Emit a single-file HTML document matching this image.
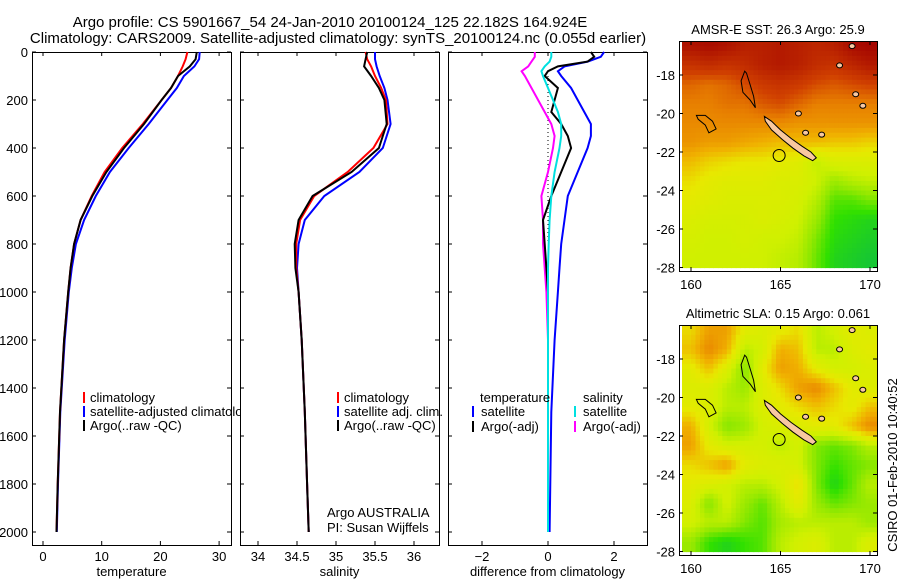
<!DOCTYPE html>
<html><head><meta charset="utf-8"><style>
body{margin:0;background:#fff}
svg{display:block;font-family:"Liberation Sans",sans-serif;font-size:13px}
</style></head><body>
<svg id="fig" width="900" height="580" xmlns="http://www.w3.org/2000/svg">
<text x="330" y="27" text-anchor="middle" style="font-size:15px">Argo profile: CS 5901667_54 24-Jan-2010 20100124_125 22.182S 164.924E</text>
<text x="338" y="43" text-anchor="middle" style="font-size:15px">Climatology: CARS2009. Satellite-adjusted climatology: synTS_20100124.nc (0.055d earlier)</text>
</svg>
<script>
const depths=[0,30,60,100,150,200,300,400,500,600,700,800,900,1000,1200,1500,1800,2000];
const tClim=[24.6,24.3,23.8,23.0,21.8,20.2,17.0,13.5,10.5,8.3,6.4,5.3,4.7,4.3,3.6,2.9,2.5,2.3];
const tSat=[26.7,26.6,25.8,24.0,22.8,21.2,18.0,14.6,11.4,9.0,7.0,5.6,4.9,4.4,3.7,2.95,2.55,2.35];
const tArgo=[26.2,26.0,25.0,23.0,21.8,20.2,17.2,13.8,10.8,8.4,6.4,5.3,4.7,4.3,3.6,2.9,2.5,2.3];
const sClim=[35.38,35.4,35.45,35.5,35.58,35.64,35.66,35.48,35.15,34.72,34.54,34.49,34.49,34.52,34.56,34.6,34.63,34.65];
const sSat=[35.5,35.5,35.52,35.56,35.62,35.66,35.7,35.6,35.3,34.85,34.6,34.52,34.5,34.52,34.56,34.6,34.63,34.65];
const sArgo=[35.4,35.38,35.36,35.45,35.55,35.62,35.65,35.55,35.2,34.7,34.52,34.47,34.48,34.52,34.56,34.6,34.63,34.65];
const dDepth=[0,20,40,60,80,100,150,200,250,300,350,400,500,600,700,800,900,1000,1200,1500,2000];
const dTSat=[1.7,1.6,1.2,0.5,0.3,0.4,0.7,0.9,1.1,1.3,1.3,1.2,0.9,0.6,0.5,0.4,0.35,0.3,0.2,0.1,0.05];
const dTArgo=[1.3,1.4,1.2,0.3,0.0,-0.1,0.3,0.2,0.1,0.4,0.6,0.7,0.4,0.1,-0.15,-0.1,-0.05,0.0,0.0,0.0,0.0];
const dSSat=[0.1,0.1,0.05,-0.1,-0.2,-0.15,0.0,0.15,0.3,0.4,0.4,0.35,0.2,0.1,0.05,0.02,0.0,0.0,0.0,0.0,0.0];
const dSArgo=[-0.4,-0.4,-0.5,-0.6,-0.8,-0.7,-0.5,-0.3,-0.1,0.1,0.2,0.15,0.0,-0.2,-0.15,-0.15,-0.1,-0.05,0.0,0.0,0.0];
const depthTicks=[0,200,400,600,800,1000,1200,1400,1600,1800,2000];
const tTicks=[0,10,20,30];
const sTicks=[34,34.5,35,35.5,36];
const dTicks=[-2,0,2];
const mapLats=[16.5,17.5,18.5,19.5,20.5,21.5,22.5,23.5,24.5,25.5,26.5,27.5];
const mapLons=[160,161,162,163,164,165,166,167,168,169,170];
const sstGrid=[
[27.7,27.8,27.7,27.5,27.5,27.6,27.5,27.4,27.5,27.8,27.9],
[27.2,27.3,27.2,27.3,27.5,27.6,27.5,27.3,27.2,27.4,27.6],
[26.7,26.6,26.7,26.9,27.1,27.2,27.1,26.9,26.8,26.9,27.0],
[26.5,26.5,26.6,26.6,26.8,26.9,26.7,26.5,26.5,26.5,26.5],
[26.4,26.4,26.4,26.4,26.4,26.4,26.3,26.3,26.3,26.3,26.3],
[26.3,26.2,26.2,26.1,26.0,25.9,25.9,25.9,25.8,25.8,25.7],
[25.9,25.7,25.6,25.5,25.5,25.4,25.3,24.9,25.2,25.2,25.2],
[25.6,25.4,25.3,25.3,25.3,25.2,25.2,25.0,24.6,24.8,24.9],
[25.4,25.3,25.2,25.2,25.2,25.2,25.1,24.8,24.2,24.2,24.4],
[25.2,25.1,25.1,25.1,25.2,25.1,25.0,24.6,24.0,23.9,23.8],
[25.1,25.0,25.0,25.1,25.0,25.0,24.9,24.4,23.9,23.8,23.7],
[25.0,25.0,25.0,25.0,25.0,24.9,24.8,24.3,23.8,23.7,23.6]];
const slaGrid=[
[0.15,0.22,0.22,0.12,0.10,0.12,0.15,0.05,0.08,0.12,0.10],
[0.18,0.25,0.20,0.05,0.08,0.20,0.18,0.05,0.05,0.10,0.12],
[0.12,0.18,0.10,0.0,0.12,0.22,0.20,0.12,0.08,0.08,0.10],
[0.10,0.10,0.05,0.02,0.10,0.15,0.22,0.25,0.18,0.12,0.10],
[0.12,0.10,0.05,0.05,0.10,0.12,0.15,0.18,0.15,0.12,0.18],
[0.20,0.08,0.0,0.02,0.08,0.10,0.10,0.12,0.12,0.18,0.25],
[0.22,0.12,0.08,0.08,0.08,0.05,0.08,0.0,-0.02,0.0,0.05],
[0.15,0.18,0.22,0.12,0.10,0.10,0.08,0.0,-0.05,-0.02,0.0],
[0.12,0.10,0.08,0.05,0.05,0.08,0.15,0.0,-0.08,-0.02,0.05],
[0.10,0.0,0.08,0.02,-0.02,0.05,0.12,0.02,-0.02,0.0,0.02],
[0.08,0.05,0.05,0.0,-0.03,0.03,0.05,0.05,0.05,0.05,0.02],
[0.02,-0.05,-0.08,-0.05,-0.03,0.05,0.08,0.10,0.05,0.05,0.10]];
const mapTicksX=[160,165,170];
const mapTicksY=[18,20,22,24,26,28];
const island=[[164.1,20.15],[164.5,20.4],[165.0,20.85],[165.6,21.3],[166.2,21.7],[166.7,22.0],[167.0,22.3],[166.8,22.45],[166.3,22.2],[165.7,21.8],[165.1,21.35],[164.5,20.85],[164.15,20.4]];
const reef1=[[163.0,17.8],[162.8,18.3],[162.9,18.9],[163.3,19.3],[163.6,19.7],[163.5,19.1],[163.3,18.5],[163.1,17.9]];
const reef2=[[160.3,20.1],[160.8,20.1],[161.2,20.4],[161.4,20.8],[161.0,21.0],[160.8,20.6],[160.4,20.3]];
const argoPos=[164.924,22.182];

const NS="http://www.w3.org/2000/svg";
const svg=document.getElementById('fig');
function mk(tag,attrs,parent){const e=document.createElementNS(NS,tag);for(const k in attrs)e.setAttribute(k,attrs[k]);(parent||svg).appendChild(e);return e;}
function txt(x,y,s,anchor,parent){const t=mk('text',{x:x,y:y,'text-anchor':anchor||'start'},parent);t.textContent=s;return t;}

const PT=52,PB=545;
const Y0=52,YS=(532-52)/2000;
const yD=d=>Y0+d*YS;
const panels=[
 {x0:32,x1:231,sc:v=>43+v*5.87,ticks:tTicks,lab:'temperature',name:'temperature'},
 {x0:240,x1:439,sc:v=>258+(v-34)*78,ticks:sTicks,lab:'salinity',name:'salinity'},
 {x0:448,x1:647,sc:v=>548+v*33,ticks:dTicks,lab:'difference from climatology',name:'difference'}];
function line(xs,ds,sc,color,w,name){
 const pts=xs.map((v,i)=>sc(v).toFixed(1)+','+yD(ds[i]).toFixed(1)).join(' ');
 const p=mk('polyline',{points:pts,fill:'none',stroke:color,'stroke-width':w||2});
 
 
 return p;}
panels.forEach((P)=>{
 const g=mk('g',{});
 
 
 mk('rect',{x:P.x0,y:PT,width:P.x1-P.x0,height:PB-PT,fill:'#fff',stroke:'none'},g);
 P.g=g;
});
function frame(P,pi){
 const g=P.g;
 mk('rect',{x:P.x0+0.5,y:PT+0.5,width:P.x1-P.x0,height:PB-PT,fill:'none',stroke:'#000'},g);
 P.ticks.forEach(t=>{const x=P.sc(t);mk('line',{x1:x,x2:x,y1:PT,y2:PT+4,stroke:'#000'},g);mk('line',{x1:x,x2:x,y1:PB,y2:PB-4,stroke:'#000'},g);
  const l=txt(x,561,String(t).replace('-','−'),'middle',g);});
 const xl=txt((P.x0+P.x1)/2,576,P.lab,'middle',g);
 depthTicks.forEach(d=>{const y=yD(d);mk('line',{x1:P.x0,x2:P.x0+4,y1:y,y2:y,stroke:'#000'},g);mk('line',{x1:P.x1,x2:P.x1-4,y1:y,y2:y,stroke:'#000'},g);
  if(pi==0){const l=txt(P.x0-4,y+5,String(d),'end',g);}});
}
let P=panels[0];
line(tSat,depths,P.sc,'#0000ff',2,'temp-satellite-line');
line(tClim,depths,P.sc,'#ff0000',2,'temp-climatology-line');
line(tArgo,depths,P.sc,'#000',2,'temp-argo-line');
frame(P,0);
[['#ff0000','climatology'],['#0000ff','satellite-adjusted climatology'],['#000','Argo(..raw -QC)']].forEach((e,i)=>{
 mk('rect',{x:83,y:392+i*14,width:2,height:11,fill:e[0]});const t=txt(90,402+i*14,e[1]);});
P=panels[1];
svg.appendChild(P.g);
line(sSat,depths,P.sc,'#0000ff',2,'sal-satellite-line');
line(sClim,depths,P.sc,'#ff0000',2,'sal-climatology-line');
line(sArgo,depths,P.sc,'#000',2,'sal-argo-line');
frame(P,1);
[['#ff0000','climatology'],['#0000ff','satellite adj. clim.'],['#000','Argo(..raw -QC)']].forEach((e,i)=>{
 mk('rect',{x:337,y:392+i*14,width:2,height:11,fill:e[0]});const t=txt(344,402+i*14,e[1]);});
txt(327,517,'Argo AUSTRALIA');txt(327,532,'PI: Susan Wijffels');
P=panels[2];
svg.appendChild(P.g);
mk('line',{x1:548,x2:548,y1:yD(100),y2:yD(800),stroke:'#000','stroke-dasharray':'1,3'});
line(dTSat,dDepth,P.sc,'#0000ff',2,'diff-temp-satellite-line');
line(dSArgo,dDepth,P.sc,'#ff00ff',2,'diff-sal-argo-line');
line(dTArgo,dDepth,P.sc,'#000',2,'diff-temp-argo-line');
line(dSSat,dDepth,P.sc,'#00e0e0',2,'diff-sal-satellite-line');
frame(P,2);
txt(480,402,'temperature');txt(583,402,'salinity');
[['#0000ff','satellite',472],['#000','Argo(-adj)',472],['#00e0e0','satellite',574],['#ff00ff','Argo(-adj)',574]].forEach((e,i)=>{
 const r=i%2;mk('rect',{x:e[2],y:406+r*15,width:2,height:11,fill:e[0]});const t=txt(e[2]+9,416+r*15,e[1]);});

const stops=[[0,[32,192,160]],[0.1,[16,192,64]],[0.2,[48,224,0]],[0.3,[144,232,0]],[0.4,[208,240,0]],[0.5,[232,232,0]],[0.6,[240,176,0]],[0.7,[232,128,0]],[0.8,[208,64,0]],[1,[160,0,0]]];
function cmap(t){t=Math.max(0,Math.min(1,t));for(let i=1;i<stops.length;i++){if(t<=stops[i][0]){const a=stops[i-1],b=stops[i],f=(t-a[0])/(b[0]-a[0]);return 'rgb('+a[1].map((c,k)=>Math.round(c+(b[1][k]-c)*f)).join(',')+')';}}return 'rgb(160,0,0)';}
function sample(grid,r,c){ // bilinear in grid-index space
 const R=grid.length-1,C=grid[0].length-1;r=Math.max(0,Math.min(R,r));c=Math.max(0,Math.min(C,c));
 const r0=Math.min(R-1,Math.floor(r)),c0=Math.min(C-1,Math.floor(c)),fr=r-r0,fc=c-c0;
 return grid[r0][c0]*(1-fr)*(1-fc)+grid[r0][c0+1]*(1-fr)*fc+grid[r0+1][c0]*fr*(1-fc)+grid[r0+1][c0+1]*fr*fc;}
function drawMap(top,grid,lo,hi,title,name){
 const x0=679,x1=877,y1=top+230,lonX=l=>691+(l-160)*17.9,latY=l=>top+34+(l-18)*19.25;
 const g=mk('g',{});
 const cid='clip'+top;const cp=mk('clipPath',{id:cid},g);mk('rect',{x:x0,y:top,width:x1-x0,height:230},cp);
 const cg=mk('g',{'clip-path':'url(#'+cid+')'},g);
 const N=4;
 grid.forEach((row,ri)=>row.forEach((v,ci)=>{
  for(let a=0;a<N;a++)for(let b=0;b<N;b++){
   const rr=ri-0.5+(a+0.5)/N, cc=ci-0.5+(b+0.5)/N;
   const val=sample(grid,rr,cc);
   const c=mk('rect',{x:lonX(mapLons[ci]-0.5+b/N).toFixed(1),y:latY(mapLats[ri]-0.5+a/N).toFixed(1),width:17.9/N+0.6,height:19.25/N+0.6,fill:cmap((val-lo)/(hi-lo))},cg);
   
   
  }}));
 const poly=(pts,fill)=>mk('polygon',{points:pts.map(p=>lonX(p[0]).toFixed(1)+','+latY(p[1]).toFixed(1)).join(' '),fill:fill,stroke:'#000','stroke-width':1},cg);
 const isl=poly(island,'#f8c8a0');
 poly(reef1,'none');poly(reef2,'none');
 [[169.0,16.5],[168.3,17.5],[169.2,19.0],[169.6,19.6],[166.0,20.0],[166.4,21.0],[167.3,21.1]].forEach(p=>mk('ellipse',{cx:lonX(p[0]),cy:latY(p[1]),rx:3,ry:2.5,fill:'#f8c8a0',stroke:'#000'},cg));
 const c=mk('circle',{cx:lonX(argoPos[0]),cy:latY(argoPos[1]),r:6,fill:'none',stroke:'#000'},cg);
 
 mk('rect',{x:x0+0.5,y:top+0.5,width:x1-x0,height:230,fill:'none',stroke:'#000'},g);
 mapTicksX.forEach(l=>{const x=lonX(l);mk('line',{x1:x,x2:x,y1:top,y2:top+4,stroke:'#000'},g);mk('line',{x1:x,x2:x,y1:y1,y2:y1-4,stroke:'#000'},g);txt(x,y1+18,String(l),'middle',g);});
 mapTicksY.forEach(l=>{const y=latY(l);mk('line',{x1:x0,x2:x0+4,y1:y,y2:y,stroke:'#000'},g);mk('line',{x1:x1,x2:x1-4,y1:y,y2:y,stroke:'#000'},g);txt(x0-4,y+5,'-'+l,'end',g);});
 const t=txt(778,top-7,title,'middle',g);
}
drawMap(41,sstGrid,23,28,'AMSR-E SST: 26.3 Argo: 25.9','sst-map');
drawMap(325,slaGrid,-0.18,0.45,'Altimetric SLA: 0.15 Argo: 0.061','sla-map');
const st=txt(0,0,'CSIRO 01-Feb-2010 10:40:52','middle');
st.setAttribute('transform','translate(897,465) rotate(-90)');


</script>
</body></html>
